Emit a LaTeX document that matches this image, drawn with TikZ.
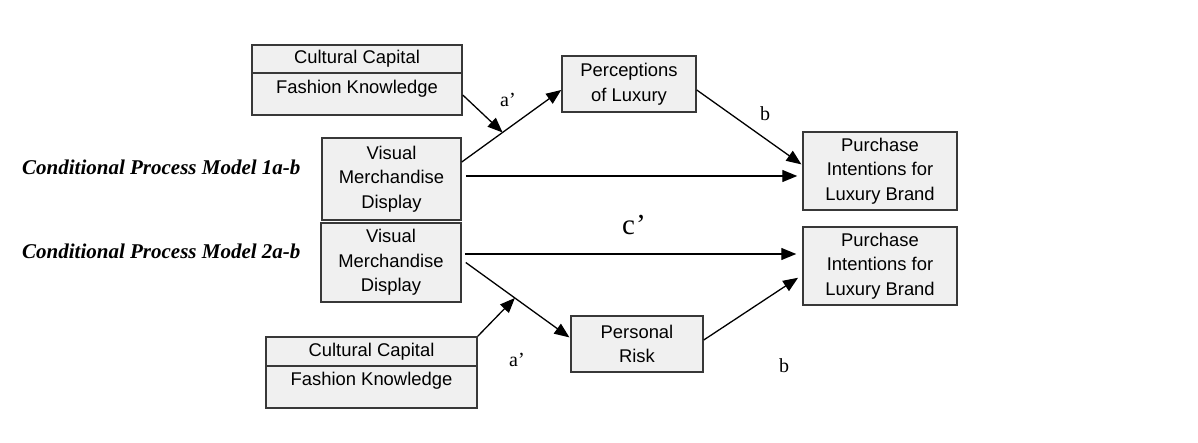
\documentclass[tikz,border=0pt]{standalone}
\usepackage{fontspec}
\setmainfont{Liberation Serif}
\setsansfont{Liberation Sans}
\usetikzlibrary{arrows.meta}
\definecolor{boxfill}{HTML}{F0F0F0}
\definecolor{boxline}{HTML}{383838}
\begin{document}
\begin{tikzpicture}[x=1pt,y=-1pt,
  box/.style={draw=boxline, line width=1.5pt, fill=boxfill, inner sep=0pt,
    align=center, font=\sffamily\fontsize{18.4}{24.5}\selectfont},
  boxtext/.style={inner sep=0pt, font=\sffamily\fontsize{18.4}{24.5}\selectfont},
  arrow/.style={draw=black, line width=1.3pt, -{Triangle[length=15pt,width=12pt]}},
  pathlabel/.style={inner sep=0pt, font=\fontsize{20}{24}\selectfont},
  modeltitle/.style={inner sep=0pt, anchor=west, font=\bfseries\itshape\fontsize{21}{25}\selectfont}]
\useasboundingbox (0,0) rectangle (1198,443);

% Model 1a-b
\node[box, minimum width=210pt, minimum height=70pt] (cc1) at (357,80) {};
\draw[boxline, line width=1.5pt] (cc1.west |- 0,73) -- (cc1.east |- 0,73);
\node[boxtext] (cc1top) at (357,59) {Cultural Capital};
\node[boxtext] (cc1bot) at (357,89) {Fashion Knowledge};

\node[box, minimum width=139pt, minimum height=82pt] (vmd1) at (391.5,179) {Visual\\Merchandise\\Display};
\node[box, minimum width=134pt, minimum height=56pt] (perc) at (629,84) {Perceptions\\of Luxury};
\node[box, minimum width=154pt, minimum height=78pt] (pi1) at (880,171) {Purchase\\Intentions for\\Luxury Brand};

% Model 2a-b
\node[box, minimum width=140pt, minimum height=79pt] (vmd2) at (391,262.5) {Visual\\Merchandise\\Display};
\node[box, minimum width=154pt, minimum height=78pt] (pi2) at (880,266) {Purchase\\Intentions for\\Luxury Brand};
\node[box, minimum width=132pt, minimum height=56pt] (risk) at (637,344) {Personal\\Risk};
\node[box, minimum width=211pt, minimum height=71pt] (cc2) at (371.5,372.5) {};
\draw[boxline, line width=1.5pt] (cc2.west |- 0,366) -- (cc2.east |- 0,366);
\node[boxtext] (cc2top) at (371.5,352) {Cultural Capital};
\node[boxtext] (cc2bot) at (371.5,381) {Fashion Knowledge};

\node[modeltitle] (t1) at (22,167) {Conditional Process Model 1a-b};
\node[modeltitle] (t2) at (22,251) {Conditional Process Model 2a-b};

% paths of model 1
\draw[arrow] ([yshift=17pt]vmd1.east) -- ([yshift=-6pt]perc.west) coordinate[pos=0.41] (m1);
\draw[arrow] ([yshift=-15pt]cc1.east) -- (m1);
\coordinate (s3) at ([xshift=4pt,yshift=3pt]vmd1.east);
\draw[arrow, shorten >=5pt] (s3) -- (s3 -| pi1.west);
\draw[arrow, shorten >=1pt] ([yshift=-6pt]perc.east) -- ([yshift=6pt]pi1.west);

% paths of model 2
\coordinate (s5) at ([xshift=3pt,yshift=8.5pt]vmd2.east);
\draw[arrow, shorten >=6pt] (s5) -- (s5 -| pi2.west);
\draw[arrow, shorten >=1pt] ([xshift=4pt]vmd2.east) -- ([yshift=6pt]risk.west) coordinate[pos=0.47] (m2);
\draw[arrow] (cc2.north east) -- (m2);
\draw[arrow, shorten >=5pt] ([yshift=4pt]risk.east) -- ([yshift=-9pt]pi2.west);

% path labels
\node[pathlabel] (la1) at (508,100) {a’};
\node[pathlabel] (lb1) at (765,114) {b};
\node[pathlabel, font=\fontsize{29}{32}\selectfont] (lc) at (634,225) {c\kern1pt’};
\node[pathlabel] (la2) at (517,360) {a’};
\node[pathlabel] (lb2) at (784,366) {b};
\end{tikzpicture}
\end{document}
